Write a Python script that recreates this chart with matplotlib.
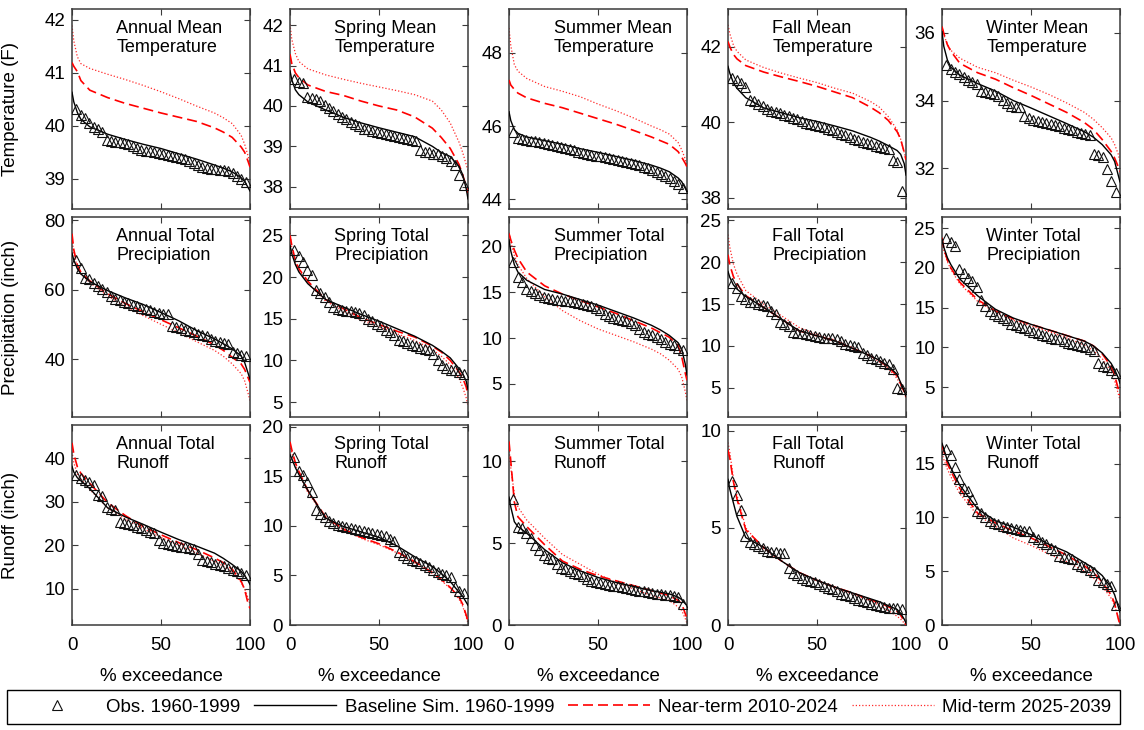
import numpy as np
import matplotlib
matplotlib.use("Agg")
import matplotlib.pyplot as plt
from matplotlib.lines import Line2D

plt.rcParams['font.family'] = ['Liberation Sans', 'DejaVu Sans']

# exceedance probability (%) at which the simulated curves are tabulated
curve_pct = [0, 1, 3, 5, 10, 20, 30, 40, 50, 60, 70, 80, 85, 90, 95, 97, 99, 100]

# ---------------- Mean temperature (F) ----------------
ann_temp_obs = [40.31, 40.2, 40.14, 40.05, 39.98, 39.93, 39.88, 39.74, 39.72, 39.7,
                39.69, 39.67, 39.65, 39.62, 39.58, 39.55, 39.53, 39.52, 39.5, 39.48,
                39.47, 39.45, 39.43, 39.41, 39.39, 39.37, 39.34, 39.3, 39.26, 39.23,
                39.21, 39.19, 39.18, 39.17, 39.16, 39.14, 39.11, 39.06, 39.0, 38.93]
ann_temp_base = [40.63, 40.45, 40.25, 40.12, 39.98, 39.84, 39.74, 39.65, 39.57, 39.47, 39.37, 39.26, 39.2, 39.13, 39.02, 38.95, 38.83, 38.77]
ann_temp_near = [41.19, 41.12, 41.02, 40.85, 40.67, 40.53, 40.42, 40.33, 40.24, 40.16, 40.08, 39.96, 39.88, 39.78, 39.6, 39.5, 39.32, 39.22]
ann_temp_mid = [41.89, 41.6, 41.3, 41.17, 41.08, 40.97, 40.87, 40.76, 40.64, 40.51, 40.37, 40.24, 40.15, 40.04, 39.82, 39.65, 39.42, 39.25]

spr_temp_obs = [40.66, 40.6, 40.56, 40.22, 40.2, 40.18, 40.12, 40.03, 39.96, 39.88,
                39.8, 39.72, 39.67, 39.6, 39.55, 39.5, 39.44, 39.42, 39.38, 39.35,
                39.33, 39.3, 39.27, 39.25, 39.22, 39.2, 39.18, 39.16, 39.14, 38.9,
                38.87, 38.85, 38.82, 38.8, 38.76, 38.72, 38.65, 38.55, 38.3, 38.05]
spr_temp_base = [40.87, 40.65, 40.4, 40.28, 40.1, 39.9, 39.72, 39.58, 39.46, 39.35, 39.24, 39.0, 38.85, 38.75, 38.5, 38.3, 37.95, 37.7]
spr_temp_near = [41.28, 41.05, 40.82, 40.7, 40.52, 40.36, 40.26, 40.12, 40.0, 39.9, 39.73, 39.45, 39.22, 38.95, 38.55, 38.3, 38.0, 37.85]
spr_temp_mid = [42.02, 41.65, 41.3, 41.1, 40.92, 40.77, 40.66, 40.56, 40.47, 40.38, 40.28, 40.12, 39.9, 39.58, 39.1, 38.85, 38.55, 38.4]

sum_temp_obs = [45.84, 45.68, 45.64, 45.62, 45.6, 45.58, 45.56, 45.54, 45.52, 45.48,
                45.45, 45.42, 45.39, 45.36, 45.33, 45.3, 45.27, 45.24, 45.21, 45.19,
                45.17, 45.15, 45.13, 45.1, 45.07, 45.04, 45.01, 44.98, 44.95, 44.92,
                44.88, 44.85, 44.8, 44.75, 44.7, 44.64, 44.58, 44.5, 44.42, 44.3]
sum_temp_base = [46.39, 46.15, 45.9, 45.8, 45.7, 45.6, 45.5, 45.38, 45.28, 45.17, 45.06, 44.93, 44.85, 44.75, 44.58, 44.48, 44.3, 44.2]
sum_temp_near = [47.26, 47.12, 47.0, 46.9, 46.77, 46.62, 46.5, 46.35, 46.2, 46.05, 45.88, 45.7, 45.6, 45.5, 45.3, 45.15, 44.98, 44.88]
sum_temp_mid = [48.68, 48.2, 47.68, 47.5, 47.3, 47.08, 46.95, 46.8, 46.6, 46.42, 46.22, 46.0, 45.9, 45.78, 45.55, 45.35, 45.1, 44.9]

fal_temp_obs = [41.18, 41.12, 41.05, 40.92, 40.6, 40.55, 40.48, 40.42, 40.36, 40.3,
                40.27, 40.24, 40.2, 40.17, 40.12, 40.08, 40.03, 39.99, 39.96, 39.93,
                39.9, 39.86, 39.83, 39.79, 39.74, 39.7, 39.65, 39.6, 39.56, 39.52,
                39.48, 39.45, 39.42, 39.38, 39.35, 39.32, 39.28, 39.0, 38.95, 38.18]
fal_temp_base = [41.48, 41.3, 41.05, 40.9, 40.65, 40.38, 40.25, 40.12, 40.02, 39.9, 39.77, 39.6, 39.5, 39.38, 39.25, 39.15, 38.9, 38.6]
fal_temp_near = [42.14, 42.0, 41.8, 41.68, 41.5, 41.33, 41.2, 41.08, 40.95, 40.8, 40.65, 40.4, 40.25, 40.05, 39.75, 39.55, 39.2, 39.0]
fal_temp_mid = [42.58, 42.35, 42.05, 41.88, 41.65, 41.45, 41.3, 41.17, 41.05, 40.9, 40.77, 40.55, 40.4, 40.15, 39.8, 39.55, 39.2, 39.0]

win_temp_obs = [35.04, 34.92, 34.85, 34.78, 34.7, 34.6, 34.55, 34.5, 34.28, 34.25,
                34.22, 34.18, 34.12, 34.02, 33.92, 33.85, 33.82, 33.8, 33.55, 33.48,
                33.43, 33.4, 33.38, 33.35, 33.3, 33.27, 33.24, 33.2, 33.16, 33.12,
                33.06, 33.03, 33.0, 32.98, 32.42, 32.38, 32.33, 31.98, 31.62, 31.3]
win_temp_base = [36.03, 35.6, 35.2, 34.98, 34.75, 34.5, 34.28, 34.0, 33.78, 33.55, 33.32, 33.08, 32.92, 32.7, 32.4, 32.2, 31.8, 31.6]
win_temp_near = [36.18, 35.98, 35.65, 35.45, 35.1, 34.82, 34.63, 34.38, 34.15, 33.9, 33.65, 33.35, 33.15, 32.85, 32.5, 32.3, 32.05, 31.9]
win_temp_mid = [36.18, 35.95, 35.65, 35.48, 35.25, 34.98, 34.82, 34.6, 34.4, 34.18, 33.93, 33.65, 33.45, 33.2, 32.9, 32.7, 32.42, 32.2]

# ---------------- Total precipitation (inch) ----------------
ann_prcp_obs = [68.6, 66.3, 63.4, 63.0, 62.0, 61.0, 60.3, 59.2, 58.2, 57.4,
                57.0, 56.5, 56.0, 55.6, 55.2, 54.8, 54.4, 54.0, 53.6, 53.3,
                53.1, 52.9, 49.5, 49.2, 48.9, 48.5, 48.1, 47.7, 47.3, 46.9,
                46.6, 45.8, 45.3, 45.0, 44.6, 44.3, 41.9, 41.6, 41.2, 40.9]
ann_prcp_base = [70.5, 68.5, 66.0, 64.5, 62.3, 59.7, 57.6, 55.7, 53.4, 51.0, 48.2, 45.8, 44.4, 42.9, 40.9, 39.0, 35.8, 34.2]
ann_prcp_near = [76.1, 71.5, 67.0, 65.0, 62.5, 58.8, 56.0, 53.6, 51.3, 49.0, 46.6, 44.1, 42.5, 40.5, 38.6, 37.0, 34.5, 33.3]
ann_prcp_mid = [74.5, 70.5, 66.5, 64.5, 62.0, 58.2, 55.0, 52.5, 50.0, 47.6, 45.0, 42.5, 40.8, 38.6, 35.8, 33.7, 30.0, 28.0]

spr_prcp_obs = [23.2, 22.5, 21.8, 20.8, 20.2, 18.4, 18.1, 17.6, 17.0, 16.4,
                16.2, 16.0, 15.9, 15.9, 15.8, 15.7, 15.4, 15.0, 14.7, 14.4,
                14.1, 13.7, 13.4, 13.1, 12.5, 12.3, 12.1, 11.9, 11.7, 11.5,
                11.4, 11.2, 10.8, 10.0, 9.4, 9.1, 8.9, 8.8, 8.6, 8.4]
spr_prcp_base = [23.8, 22.8, 21.5, 20.6, 19.2, 17.3, 16.4, 15.5, 14.7, 13.8, 12.9, 11.8, 11.1, 10.3, 9.0, 8.4, 7.5, 6.5]
spr_prcp_near = [25.0, 23.8, 22.0, 21.0, 19.5, 17.3, 16.2, 15.1, 14.3, 13.5, 12.8, 11.7, 11.0, 10.0, 8.6, 7.9, 6.8, 5.8]
spr_prcp_mid = [25.3, 23.5, 21.8, 20.8, 19.3, 17.1, 15.9, 14.8, 14.0, 13.2, 12.4, 11.3, 10.5, 9.5, 7.8, 6.8, 5.5, 4.5]

sum_prcp_obs = [18.3, 16.7, 16.1, 15.3, 15.1, 14.9, 14.7, 14.5, 14.4, 14.3,
                14.2, 14.1, 14.0, 14.0, 13.9, 13.8, 13.7, 13.6, 13.5, 13.3,
                13.1, 12.6, 12.4, 12.2, 12.1, 12.0, 11.9, 11.7, 11.4, 11.0,
                10.7, 10.5, 10.3, 10.1, 9.9, 9.6, 9.4, 9.2, 8.9, 8.7]
sum_prcp_base = [20.7, 19.5, 18.0, 17.2, 16.3, 15.3, 14.8, 14.2, 13.6, 12.9, 12.2, 11.4, 10.9, 10.3, 9.5, 8.8, 7.2, 6.0]
sum_prcp_near = [21.4, 20.7, 19.6, 18.7, 17.2, 15.7, 14.8, 14.1, 13.4, 12.7, 11.9, 11.1, 10.6, 10.1, 9.2, 8.0, 6.2, 5.4]
sum_prcp_mid = [21.5, 20.5, 19.0, 18.0, 16.5, 14.5, 13.0, 11.9, 11.0, 10.3, 9.6, 8.8, 8.3, 7.6, 6.6, 5.8, 4.2, 3.2]

fal_prcp_obs = [17.5, 16.9, 16.0, 15.6, 15.3, 15.2, 15.0, 14.9, 14.8, 14.2,
                13.8, 12.8, 12.6, 12.4, 11.6, 11.55, 11.5, 11.4, 11.3, 11.2,
                11.1, 11.0, 10.95, 10.9, 10.8, 10.6, 10.2, 10.1, 10.0, 9.9,
                9.2, 8.9, 8.6, 8.4, 8.2, 8.0, 7.8, 7.2, 5.0, 4.8]
fal_prcp_base = [18.9, 18.2, 17.3, 16.8, 15.9, 14.6, 13.2, 11.8, 11.2, 10.6, 9.7, 8.8, 8.3, 7.6, 6.6, 5.6, 4.6, 4.0]
fal_prcp_near = [20.9, 19.7, 18.3, 17.4, 16.0, 14.6, 13.2, 11.8, 11.2, 10.6, 9.7, 8.8, 8.2, 7.5, 6.4, 5.5, 4.5, 3.9]
fal_prcp_mid = [23.3, 21.8, 19.8, 18.6, 16.6, 15.0, 13.6, 12.2, 11.4, 10.7, 9.8, 8.8, 8.1, 7.3, 6.1, 5.3, 4.4, 3.8]

win_prcp_obs = [23.8, 23.2, 22.8, 19.9, 19.3, 18.7, 18.3, 17.6, 16.0, 15.2,
                14.6, 14.2, 14.0, 13.7, 13.4, 13.0, 12.8, 12.6, 12.4, 12.2,
                12.0, 11.8, 11.6, 11.4, 11.2, 11.1, 11.0, 10.8, 10.6, 10.4,
                10.3, 10.2, 10.0, 9.8, 9.5, 8.0, 7.7, 7.5, 7.2, 6.8]
win_prcp_base = [23.6, 22.6, 21.3, 20.4, 18.6, 16.5, 14.8, 13.7, 12.9, 12.2, 11.5, 10.8, 10.2, 9.3, 8.0, 7.2, 6.2, 5.5]
win_prcp_near = [23.8, 22.5, 21.0, 20.0, 18.2, 16.0, 14.6, 13.6, 12.9, 12.2, 11.5, 10.8, 10.2, 9.2, 7.6, 6.5, 4.8, 4.0]
win_prcp_mid = [23.5, 22.2, 20.8, 19.8, 18.0, 15.8, 14.4, 13.4, 12.7, 12.0, 11.2, 10.3, 9.6, 8.6, 7.0, 5.8, 4.2, 3.4]

# ---------------- Total runoff (inch) ----------------
ann_roff_obs = [36.2, 35.4, 35.0, 34.5, 33.8, 31.5, 31.2, 28.8, 28.4, 28.0,
                25.4, 25.1, 24.9, 24.6, 24.2, 23.9, 23.5, 23.1, 22.7, 21.2,
                20.5, 20.3, 20.1, 19.9, 19.7, 19.5, 19.3, 19.1, 18.1, 16.6,
                16.4, 16.1, 15.8, 15.5, 15.2, 14.8, 14.3, 14.0, 13.6, 13.1]
ann_roff_base = [38.1, 36.8, 35.5, 34.8, 33.0, 28.6, 26.5, 24.8, 23.0, 21.3, 19.8, 18.2, 17.0, 15.6, 14.0, 13.0, 11.8, 11.0]
ann_roff_near = [43.5, 41.0, 38.0, 36.5, 34.2, 29.8, 26.8, 24.3, 22.4, 20.6, 19.0, 17.1, 16.0, 14.5, 11.8, 9.8, 6.5, 5.5]
ann_roff_mid = [41.5, 39.0, 36.3, 35.2, 32.8, 28.6, 26.0, 23.8, 21.8, 20.0, 18.2, 16.3, 15.2, 13.8, 11.5, 10.0, 7.8, 6.5]

spr_roff_obs = [17.0, 15.6, 15.1, 14.4, 13.4, 11.6, 11.2, 10.9, 10.5, 10.3,
                10.1, 10.0, 9.9, 9.8, 9.65, 9.55, 9.45, 9.4, 9.3, 9.2,
                9.1, 9.0, 8.7, 8.5, 7.4, 7.1, 6.8, 6.6, 6.45, 6.3,
                6.1, 5.9, 5.6, 5.4, 5.2, 5.0, 4.8, 3.8, 3.4, 3.2]
spr_roff_base = [17.2, 16.8, 15.9, 15.2, 13.6, 10.8, 9.95, 9.4, 8.85, 8.0, 6.9, 5.9, 5.2, 4.4, 3.3, 2.9, 2.3, 2.0]
spr_roff_near = [18.5, 17.7, 16.4, 15.5, 13.6, 10.9, 9.7, 8.85, 8.2, 7.4, 6.4, 5.3, 4.6, 3.8, 2.8, 2.1, 1.0, 0.4]
spr_roff_mid = [18.2, 17.4, 16.2, 15.3, 13.4, 10.8, 9.6, 8.75, 8.1, 7.3, 6.3, 5.2, 4.5, 3.7, 2.6, 1.9, 0.8, 0.2]

sum_roff_obs = [7.7, 6.0, 5.9, 5.6, 5.3, 4.9, 4.6, 4.3, 4.1, 4.0,
                3.7, 3.5, 3.4, 3.3, 3.2, 3.1, 3.0, 2.8, 2.7, 2.6,
                2.55, 2.5, 2.45, 2.4, 2.35, 2.3, 2.25, 2.2, 2.15, 2.1,
                2.05, 2.0, 1.95, 1.9, 1.9, 1.85, 1.8, 1.75, 1.7, 1.3]
sum_roff_base = [7.8, 7.2, 6.3, 6.0, 5.6, 4.6, 3.8, 3.3, 2.9, 2.6, 2.35, 2.1, 2.0, 1.9, 1.7, 1.55, 1.3, 1.2]
sum_roff_near = [11.2, 10.0, 7.5, 6.6, 6.0, 4.9, 3.9, 3.4, 3.0, 2.7, 2.4, 2.1, 1.95, 1.8, 1.5, 1.3, 0.7, 0.4]
sum_roff_mid = [10.8, 9.6, 8.0, 7.2, 6.4, 5.3, 4.3, 3.7, 3.1, 2.6, 2.2, 1.8, 1.65, 1.5, 1.1, 0.9, 0.4, 0.1]

fal_roff_obs = [7.4, 6.7, 5.9, 4.6, 4.25, 4.15, 4.05, 3.95, 3.8, 3.75,
                3.75, 3.7, 3.7, 2.95, 2.7, 2.55, 2.4, 2.3, 2.25, 2.2,
                2.1, 2.0, 1.9, 1.85, 1.75, 1.6, 1.55, 1.5, 1.4, 1.3,
                1.25, 1.2, 1.1, 1.05, 1.0, 0.95, 0.9, 0.85, 0.85, 0.8]
fal_roff_base = [7.5, 7.0, 6.3, 5.6, 4.5, 4.0, 3.3, 2.7, 2.3, 1.95, 1.65, 1.35, 1.2, 1.0, 0.8, 0.6, 0.3, 0.1]
fal_roff_near = [9.0, 8.6, 7.4, 6.5, 4.9, 4.0, 3.3, 2.7, 2.3, 1.95, 1.65, 1.3, 1.15, 0.95, 0.7, 0.5, 0.2, 0.0]
fal_roff_mid = [9.4, 8.9, 7.6, 6.7, 5.0, 3.9, 3.3, 2.7, 2.3, 1.9, 1.6, 1.25, 1.0, 0.75, 0.45, 0.3, 0.1, 0.0]

win_roff_obs = [16.4, 15.8, 14.7, 13.6, 12.7, 12.5, 11.7, 10.6, 10.4, 10.0,
                9.7, 9.5, 9.35, 9.2, 9.1, 9.0, 8.9, 8.8, 8.75, 8.7,
                8.2, 8.0, 7.7, 7.5, 7.2, 7.0, 6.4, 6.3, 6.2, 6.1,
                5.7, 5.5, 5.35, 5.1, 4.9, 4.2, 4.0, 3.8, 3.6, 1.9]
win_roff_base = [16.9, 16.4, 15.3, 14.6, 13.0, 10.8, 9.7, 9.1, 8.4, 7.5, 6.8, 5.8, 5.3, 4.6, 3.5, 2.8, 1.7, 1.2]
win_roff_near = [16.7, 16.2, 15.0, 14.3, 12.7, 10.4, 9.5, 8.75, 8.1, 7.3, 6.5, 5.5, 4.9, 4.0, 2.8, 2.0, 0.6, 0.0]
win_roff_mid = [16.0, 15.4, 14.5, 13.8, 12.2, 10.2, 9.2, 8.1, 7.4, 6.6, 5.9, 5.0, 4.4, 3.6, 2.5, 1.8, 0.7, 0.2]

# panel titles, axis ranges and y ticks, row by row
panels = [
    [("Annual Mean\nTemperature", ann_temp_obs, ann_temp_base, ann_temp_near, ann_temp_mid, (38.43, 42.2), [39, 40, 41, 42]),
     ("Spring Mean\nTemperature", spr_temp_obs, spr_temp_base, spr_temp_near, spr_temp_mid, (37.45, 42.4), [38, 39, 40, 41, 42]),
     ("Summer Mean\nTemperature", sum_temp_obs, sum_temp_base, sum_temp_near, sum_temp_mid, (43.73, 49.2), [44, 46, 48]),
     ("Fall Mean\nTemperature", fal_temp_obs, fal_temp_base, fal_temp_near, fal_temp_mid, (37.7, 43.0), [38, 40, 42]),
     ("Winter Mean\nTemperature", win_temp_obs, win_temp_base, win_temp_near, win_temp_mid, (30.8, 36.7), [32, 34, 36])],
    [("Annual Total\nPrecipiation", ann_prcp_obs, ann_prcp_base, ann_prcp_near, ann_prcp_mid, (23.3, 80.9), [40, 60, 80]),
     ("Spring Total\nPrecipiation", spr_prcp_obs, spr_prcp_base, spr_prcp_near, spr_prcp_mid, (3.2, 27.2), [5, 10, 15, 20, 25]),
     ("Summer Total\nPrecipiation", sum_prcp_obs, sum_prcp_base, sum_prcp_near, sum_prcp_mid, (1.4, 23.2), [5, 10, 15, 20]),
     ("Fall Total\nPrecipiation", fal_prcp_obs, fal_prcp_base, fal_prcp_near, fal_prcp_mid, (1.5, 25.4), [5, 10, 15, 20, 25]),
     ("Winter Total\nPrecipiation", win_prcp_obs, win_prcp_base, win_prcp_near, win_prcp_mid, (1.25, 26.4), [5, 10, 15, 20, 25])],
    [("Annual Total\nRunoff", ann_roff_obs, ann_roff_base, ann_roff_near, ann_roff_mid, (1.7, 47.6), [10, 20, 30, 40]),
     ("Spring Total\nRunoff", spr_roff_obs, spr_roff_base, spr_roff_near, spr_roff_mid, (0, 20.2), [0, 5, 10, 15, 20]),
     ("Summer Total\nRunoff", sum_roff_obs, sum_roff_base, sum_roff_near, sum_roff_mid, (0, 12.2), [0, 5, 10]),
     ("Fall Total\nRunoff", fal_roff_obs, fal_roff_base, fal_roff_near, fal_roff_mid, (0, 10.3), [0, 5, 10]),
     ("Winter Total\nRunoff", win_roff_obs, win_roff_base, win_roff_near, win_roff_mid, (0, 18.6), [0, 5, 10, 15])],
]
row_ylabels = ["Temperature (F)", "Precipitation (inch)", "Runoff (inch)"]

# ---------------- layout (pixels on a 1144 x 730 canvas) ----------------
W, H = 1144, 730
col_left = [72, 290, 509, 728, 942]
row_top = [9, 217, 425]
ax_w, ax_h = 178, 200

FS = 13.5
frame_col = '#3a3a3a'
mid_style = dict(color='#ff2a2a', lw=0.9, ls=(0, (1, 1.6)))
near_style = dict(color='#ff0000', lw=1.2, ls=(0, (6, 3)))
base_style = dict(color='k', lw=1.0)
obs_style = dict(ls='none', marker='^', ms=6.5, mfc='none', mec='#111111', mew=0.8)

fig = plt.figure(figsize=(W / 100, H / 100), dpi=100)

for r, row in enumerate(panels):
    for c, (title, obs, base, near, mid, ylim, yticks) in enumerate(row):
        ax = fig.add_axes([col_left[c] / W, 1 - (row_top[r] + ax_h) / H, ax_w / W, ax_h / H])
        n = len(obs)
        obs_pct = np.arange(1, n + 1) / (n + 1) * 100.0   # Weibull plotting position
        ax.plot(curve_pct, mid, zorder=2, **mid_style)
        ax.plot(curve_pct, near, zorder=3, **near_style)
        ax.plot(curve_pct, base, zorder=4, **base_style)
        ax.plot(obs_pct, obs, zorder=5, **obs_style)
        ax.set_xlim(0, 100)
        ax.set_ylim(*ylim)
        ax.set_xticks([0, 50, 100])
        ax.set_yticks(yticks)
        ax.tick_params(direction='in', top=True, right=True, length=4, width=0.8,
                       colors=frame_col, labelcolor='k', labelsize=FS)
        ax.tick_params(axis='y', pad=5)
        ax.tick_params(axis='x', pad=9)
        for sp in ax.spines.values():
            sp.set_color(frame_col)
            sp.set_linewidth(1.1)
        if r < 2:
            ax.set_xticklabels([])
        else:
            ax.set_xlabel('% exceedance', fontsize=FS, labelpad=10)
        if c == 0:
            ax.set_ylabel(row_ylabels[r], fontsize=FS)
            ax.yaxis.set_label_coords(-0.30, 0.5)
        ax.text(0.25, 0.945, title, transform=ax.transAxes, ha='left', va='top',
                fontsize=13, linespacing=1.15)

handles = [Line2D([], [], **obs_style), Line2D([], [], **base_style),
           Line2D([], [], **near_style), Line2D([], [], **mid_style)]
labels = ["Obs. 1960-1999", "Baseline Sim. 1960-1999", "Near-term 2010-2024", "Mid-term 2025-2039"]
leg = fig.legend(handles, labels, loc='upper left', ncol=4, mode='expand',
                 bbox_to_anchor=(7 / W, (H - 690) / H, 1113 / W, 0.0), bbox_transform=fig.transFigure,
                 borderaxespad=0, fontsize=FS, handlelength=4.4, handletextpad=0.45,
                 columnspacing=0.9, borderpad=0.45, fancybox=False, framealpha=1)
leg.get_frame().set_edgecolor('k')
leg.get_frame().set_linewidth(1.0)

fig.savefig('out.png', dpi=100)
